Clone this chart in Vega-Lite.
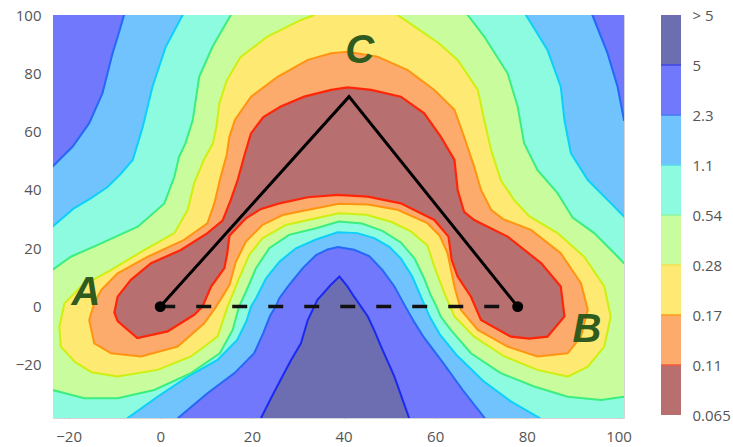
{
  "$schema": "https://vega.github.io/schema/vega-lite/v6.json",
  "background": "white",
  "padding": {"left": 14, "top": 7, "right": 5, "bottom": 5},
  "bounds": "flush",
  "spacing": 37,
  "config": {
    "view": {"stroke": null},
    "axis": {"labelFont": "Open Sans", "labelFontSize": 15, "labelColor": "#555555", "grid": false, "title": null, "tickColor": "#aaaaaa"}
  },
  "datasets": {
    "contours": [
      {"level":"bg","i":0,"x":-30,"y":-45},{"level":"bg","i":1,"x":110,"y":-45},{"level":"bg","i":2,"x":110,"y":110},{"level":"bg","i":3,"x":-30,"y":110},

      {"level":"p5","i":0,"x":-30,"y":110},{"level":"p5","i":1,"x":-30,"y":-45},{"level":"p5","i":2,"x":22,"y":-45},{"level":"p5","i":3,"x":22,"y":-38.2},{"level":"p5","i":4,"x":24.3,"y":-31},{"level":"p5","i":5,"x":26.3,"y":-25},{"level":"p5","i":6,"x":28.5,"y":-18.5},{"level":"p5","i":7,"x":30.7,"y":-12.6},{"level":"p5","i":8,"x":32.2,"y":-4.6},{"level":"p5","i":9,"x":34.3,"y":2.3},{"level":"p5","i":10,"x":37.2,"y":7.4},{"level":"p5","i":11,"x":39.1,"y":10.3},{"level":"p5","i":12,"x":40.8,"y":7},{"level":"p5","i":13,"x":42.3,"y":3.4},{"level":"p5","i":14,"x":45.3,"y":-3.4},{"level":"p5","i":15,"x":46.8,"y":-8.5},{"level":"p5","i":16,"x":48.2,"y":-13.7},{"level":"p5","i":17,"x":51.1,"y":-24},{"level":"p5","i":18,"x":54.3,"y":-38.2},{"level":"p5","i":19,"x":54.3,"y":-45},{"level":"p5","i":20,"x":110,"y":-45},{"level":"p5","i":21,"x":110,"y":110},

      {"level":"p23","i":0,"x":-7.9,"y":110},{"level":"p23","i":1,"x":-7.9,"y":100},{"level":"p23","i":2,"x":-9.2,"y":93},{"level":"p23","i":3,"x":-10.4,"y":86.9},{"level":"p23","i":4,"x":-12.6,"y":73.2},{"level":"p23","i":5,"x":-15.5,"y":62.9},{"level":"p23","i":6,"x":-19.1,"y":54.9},{"level":"p23","i":7,"x":-23.5,"y":48},{"level":"p23","i":8,"x":-30,"y":44},{"level":"p23","i":9,"x":-30,"y":-45},{"level":"p23","i":10,"x":3.9,"y":-45},{"level":"p23","i":11,"x":3.9,"y":-38.2},{"level":"p23","i":12,"x":10.3,"y":-29.7},{"level":"p23","i":13,"x":16.2,"y":-22.8},{"level":"p23","i":14,"x":20.5,"y":-16},{"level":"p23","i":15,"x":22.5,"y":-9},{"level":"p23","i":16,"x":24,"y":-3},{"level":"p23","i":17,"x":25.2,"y":0},{"level":"p23","i":18,"x":26,"y":2.9},{"level":"p23","i":19,"x":28.1,"y":7.4},{"level":"p23","i":20,"x":31.1,"y":13.2},{"level":"p23","i":21,"x":34,"y":17.7},{"level":"p23","i":22,"x":36.5,"y":19.6},{"level":"p23","i":23,"x":38.8,"y":20.4},{"level":"p23","i":24,"x":42.3,"y":19.5},{"level":"p23","i":25,"x":45.6,"y":17.3},{"level":"p23","i":26,"x":48.5,"y":12.5},{"level":"p23","i":27,"x":51.1,"y":6.9},{"level":"p23","i":28,"x":53.5,"y":0},{"level":"p23","i":29,"x":55.5,"y":-5.5},{"level":"p23","i":30,"x":57.5,"y":-10.5},{"level":"p23","i":31,"x":61.8,"y":-19.5},{"level":"p23","i":32,"x":66,"y":-28.6},{"level":"p23","i":33,"x":70.8,"y":-38.2},{"level":"p23","i":34,"x":70.8,"y":-45},{"level":"p23","i":35,"x":110,"y":-45},{"level":"p23","i":36,"x":110,"y":64},{"level":"p23","i":37,"x":101.2,"y":64},{"level":"p23","i":38,"x":99.8,"y":75.4},{"level":"p23","i":39,"x":97.6,"y":86.9},{"level":"p23","i":40,"x":94.3,"y":100},{"level":"p23","i":41,"x":94.3,"y":110},

      {"level":"p11","i":0,"x":4.9,"y":110},{"level":"p11","i":1,"x":4.9,"y":100},{"level":"p11","i":2,"x":1.2,"y":89.1},{"level":"p11","i":3,"x":-1.7,"y":75.4},{"level":"p11","i":4,"x":-3.8,"y":61.7},{"level":"p11","i":5,"x":-6,"y":50.3},{"level":"p11","i":6,"x":-8.6,"y":45.5},{"level":"p11","i":7,"x":-11.5,"y":41},{"level":"p11","i":8,"x":-15,"y":37.3},{"level":"p11","i":9,"x":-19,"y":33.5},{"level":"p11","i":10,"x":-23.5,"y":27.4},{"level":"p11","i":11,"x":-30,"y":24},{"level":"p11","i":12,"x":-30,"y":-45},{"level":"p11","i":13,"x":-7.1,"y":-45},{"level":"p11","i":14,"x":-7.1,"y":-38.2},{"level":"p11","i":15,"x":-0.6,"y":-30.9},{"level":"p11","i":16,"x":6,"y":-24},{"level":"p11","i":17,"x":12.5,"y":-18.3},{"level":"p11","i":18,"x":16.8,"y":-11.4},{"level":"p11","i":19,"x":18.8,"y":-5},{"level":"p11","i":20,"x":19.8,"y":0},{"level":"p11","i":21,"x":20.9,"y":2.9},{"level":"p11","i":22,"x":23.1,"y":9.7},{"level":"p11","i":23,"x":26,"y":15.4},{"level":"p11","i":24,"x":29.6,"y":20},{"level":"p11","i":25,"x":34,"y":23},{"level":"p11","i":26,"x":38.7,"y":25.5},{"level":"p11","i":27,"x":43,"y":25.2},{"level":"p11","i":28,"x":46.7,"y":23.5},{"level":"p11","i":29,"x":50,"y":20.5},{"level":"p11","i":30,"x":52.5,"y":16.5},{"level":"p11","i":31,"x":55,"y":10.3},{"level":"p11","i":32,"x":57,"y":3},{"level":"p11","i":33,"x":58.8,"y":-3.5},{"level":"p11","i":34,"x":61,"y":-9.5},{"level":"p11","i":35,"x":64.6,"y":-16.5},{"level":"p11","i":36,"x":70.5,"y":-25.5},{"level":"p11","i":37,"x":76.5,"y":-32.5},{"level":"p11","i":38,"x":82.8,"y":-38.2},{"level":"p11","i":39,"x":82.8,"y":-45},{"level":"p11","i":40,"x":110,"y":-45},{"level":"p11","i":41,"x":110,"y":30.9},{"level":"p11","i":42,"x":101.2,"y":30.9},{"level":"p11","i":43,"x":97.6,"y":36.6},{"level":"p11","i":44,"x":93.3,"y":43.4},{"level":"p11","i":45,"x":89.6,"y":52.6},{"level":"p11","i":46,"x":88.2,"y":64},{"level":"p11","i":47,"x":87.4,"y":75.4},{"level":"p11","i":48,"x":84.5,"y":88},{"level":"p11","i":49,"x":79.8,"y":100},{"level":"p11","i":50,"x":79.8,"y":110},

      {"level":"p054","i":0,"x":15.4,"y":110},{"level":"p054","i":1,"x":15.4,"y":100},{"level":"p054","i":2,"x":11.4,"y":89.1},{"level":"p054","i":3,"x":8.5,"y":78.8},{"level":"p054","i":4,"x":7.1,"y":64},{"level":"p054","i":5,"x":5.5,"y":56},{"level":"p054","i":6,"x":4.1,"y":51.4},{"level":"p054","i":7,"x":3.1,"y":44.6},{"level":"p054","i":8,"x":0.9,"y":35.4},{"level":"p054","i":9,"x":-4.9,"y":27.4},{"level":"p054","i":10,"x":-12.9,"y":21.7},{"level":"p054","i":11,"x":-19.5,"y":17.1},{"level":"p054","i":12,"x":-23.5,"y":12.6},{"level":"p054","i":13,"x":-30,"y":10},{"level":"p054","i":14,"x":-30,"y":-27},{"level":"p054","i":15,"x":-23.5,"y":-28.6},{"level":"p054","i":16,"x":-16.6,"y":-31.4},{"level":"p054","i":17,"x":-9.3,"y":-31.4},{"level":"p054","i":18,"x":-1.3,"y":-28.6},{"level":"p054","i":19,"x":6.7,"y":-22.8},{"level":"p054","i":20,"x":13,"y":-16},{"level":"p054","i":21,"x":15.8,"y":-8},{"level":"p054","i":22,"x":17.2,"y":0},{"level":"p054","i":23,"x":18.7,"y":5.1},{"level":"p054","i":24,"x":20.9,"y":13.2},{"level":"p054","i":25,"x":23.8,"y":20},{"level":"p054","i":26,"x":28.1,"y":24.6},{"level":"p054","i":27,"x":34,"y":26.9},{"level":"p054","i":28,"x":39,"y":29.2},{"level":"p054","i":29,"x":44,"y":28.5},{"level":"p054","i":30,"x":48.5,"y":26},{"level":"p054","i":31,"x":52.5,"y":22},{"level":"p054","i":32,"x":55.5,"y":16.5},{"level":"p054","i":33,"x":57.5,"y":10},{"level":"p054","i":34,"x":59,"y":4},{"level":"p054","i":35,"x":60.3,"y":0},{"level":"p054","i":36,"x":61.2,"y":-3.4},{"level":"p054","i":37,"x":63.4,"y":-8},{"level":"p054","i":38,"x":67.8,"y":-16},{"level":"p054","i":39,"x":74.3,"y":-22.8},{"level":"p054","i":40,"x":81.6,"y":-27.4},{"level":"p054","i":41,"x":88.9,"y":-30.9},{"level":"p054","i":42,"x":96.2,"y":-32},{"level":"p054","i":43,"x":101.2,"y":-30.9},{"level":"p054","i":44,"x":110,"y":-30},{"level":"p054","i":45,"x":110,"y":14},{"level":"p054","i":46,"x":101.2,"y":14.9},{"level":"p054","i":47,"x":99.1,"y":18.3},{"level":"p054","i":48,"x":94.7,"y":25.2},{"level":"p054","i":49,"x":90,"y":30.5},{"level":"p054","i":50,"x":86.7,"y":38.9},{"level":"p054","i":51,"x":82.3,"y":46.9},{"level":"p054","i":52,"x":79.4,"y":56},{"level":"p054","i":53,"x":78,"y":68.6},{"level":"p054","i":54,"x":75.8,"y":80},{"level":"p054","i":55,"x":70.7,"y":92.6},{"level":"p054","i":56,"x":67.1,"y":100},{"level":"p054","i":57,"x":67.1,"y":110},

      {"level":"p028","i":0,"x":-22,"y":-6.9},{"level":"p028","i":1,"x":-20.9,"y":1.1},{"level":"p028","i":2,"x":-17.3,"y":6.9},{"level":"p028","i":3,"x":-10.7,"y":12.6},{"level":"p028","i":4,"x":-3.5,"y":19.4},{"level":"p028","i":5,"x":3.1,"y":25.2},{"level":"p028","i":6,"x":6,"y":33.2},{"level":"p028","i":7,"x":7.4,"y":42.3},{"level":"p028","i":8,"x":9.5,"y":50.3},{"level":"p028","i":9,"x":11.5,"y":56},{"level":"p028","i":10,"x":12.3,"y":62},{"level":"p028","i":11,"x":12.9,"y":69.7},{"level":"p028","i":12,"x":14.5,"y":77.5},{"level":"p028","i":13,"x":17.5,"y":85.5},{"level":"p028","i":14,"x":23.4,"y":92.6},{"level":"p028","i":15,"x":30.7,"y":98.3},{"level":"p028","i":16,"x":33.6,"y":100},{"level":"p028","i":17,"x":33.6,"y":110},{"level":"p028","i":18,"x":51.8,"y":110},{"level":"p028","i":19,"x":51.8,"y":100},{"level":"p028","i":20,"x":56,"y":95.5},{"level":"p028","i":21,"x":60.8,"y":90.3},{"level":"p028","i":22,"x":64.9,"y":84.6},{"level":"p028","i":23,"x":69.3,"y":74.3},{"level":"p028","i":24,"x":70.7,"y":64},{"level":"p028","i":25,"x":72.2,"y":53.7},{"level":"p028","i":26,"x":74.3,"y":43.4},{"level":"p028","i":27,"x":77.2,"y":36.6},{"level":"p028","i":28,"x":80.5,"y":31},{"level":"p028","i":29,"x":86.7,"y":25.2},{"level":"p028","i":30,"x":92.5,"y":17.1},{"level":"p028","i":31,"x":96.9,"y":6.9},{"level":"p028","i":32,"x":98.3,"y":-3.4},{"level":"p028","i":33,"x":96.9,"y":-13.7},{"level":"p028","i":34,"x":93.3,"y":-20.6},{"level":"p028","i":35,"x":88.9,"y":-24},{"level":"p028","i":36,"x":82.3,"y":-21.7},{"level":"p028","i":37,"x":75.1,"y":-17.1},{"level":"p028","i":38,"x":68.5,"y":-10.3},{"level":"p028","i":39,"x":64.2,"y":-3.4},{"level":"p028","i":40,"x":62,"y":4.6},{"level":"p028","i":41,"x":59.8,"y":13.7},{"level":"p028","i":42,"x":58.3,"y":21},{"level":"p028","i":43,"x":54.7,"y":25.8},{"level":"p028","i":44,"x":50.5,"y":29},{"level":"p028","i":45,"x":45,"y":31.5},{"level":"p028","i":46,"x":39,"y":32},{"level":"p028","i":47,"x":34,"y":30.3},{"level":"p028","i":48,"x":27.4,"y":28},{"level":"p028","i":49,"x":22.3,"y":23.4},{"level":"p028","i":50,"x":19.4,"y":17.7},{"level":"p028","i":51,"x":17.2,"y":9.7},{"level":"p028","i":52,"x":14.7,"y":0},{"level":"p028","i":53,"x":12.5,"y":-10.3},{"level":"p028","i":54,"x":6.7,"y":-17.1},{"level":"p028","i":55,"x":-0.6,"y":-21.7},{"level":"p028","i":56,"x":-9.3,"y":-24},{"level":"p028","i":57,"x":-15,"y":-22.5},{"level":"p028","i":58,"x":-18.6,"y":-19},{"level":"p028","i":59,"x":-21.7,"y":-13.7},

      {"level":"p017","i":0,"x":-15.5,"y":-4.6},{"level":"p017","i":1,"x":-14.4,"y":1.1},{"level":"p017","i":2,"x":-12.9,"y":5.7},{"level":"p017","i":3,"x":-9.3,"y":11.4},{"level":"p017","i":4,"x":-2.7,"y":17.1},{"level":"p017","i":5,"x":5.2,"y":22.9},{"level":"p017","i":6,"x":10.3,"y":28.6},{"level":"p017","i":7,"x":11.8,"y":35.4},{"level":"p017","i":8,"x":13.2,"y":44.6},{"level":"p017","i":9,"x":14.5,"y":52},{"level":"p017","i":10,"x":15.1,"y":58.3},{"level":"p017","i":11,"x":16.3,"y":64},{"level":"p017","i":12,"x":19.8,"y":72},{"level":"p017","i":13,"x":25.6,"y":78.8},{"level":"p017","i":14,"x":32.2,"y":84.6},{"level":"p017","i":15,"x":37.3,"y":86.9},{"level":"p017","i":16,"x":40.9,"y":87.4},{"level":"p017","i":17,"x":47.4,"y":85.7},{"level":"p017","i":18,"x":54,"y":81.1},{"level":"p017","i":19,"x":59.8,"y":74.3},{"level":"p017","i":20,"x":64.2,"y":67.5},{"level":"p017","i":21,"x":66.3,"y":58.3},{"level":"p017","i":22,"x":68.5,"y":48},{"level":"p017","i":23,"x":70,"y":40},{"level":"p017","i":24,"x":72.2,"y":33.2},{"level":"p017","i":25,"x":74.8,"y":30},{"level":"p017","i":26,"x":80.9,"y":26.3},{"level":"p017","i":27,"x":87.4,"y":18.3},{"level":"p017","i":28,"x":91.8,"y":8},{"level":"p017","i":29,"x":93.3,"y":-1.1},{"level":"p017","i":30,"x":91.8,"y":-10.3},{"level":"p017","i":31,"x":88.9,"y":-16},{"level":"p017","i":32,"x":82.3,"y":-17.1},{"level":"p017","i":33,"x":75.8,"y":-13.7},{"level":"p017","i":34,"x":69.3,"y":-8},{"level":"p017","i":35,"x":65.6,"y":-1.1},{"level":"p017","i":36,"x":64.2,"y":6.9},{"level":"p017","i":37,"x":62.7,"y":18.3},{"level":"p017","i":38,"x":61,"y":24.3},{"level":"p017","i":39,"x":58.3,"y":28.6},{"level":"p017","i":40,"x":51.8,"y":33.2},{"level":"p017","i":41,"x":45.3,"y":35},{"level":"p017","i":42,"x":39,"y":35.3},{"level":"p017","i":43,"x":34,"y":33.7},{"level":"p017","i":44,"x":26.7,"y":31.4},{"level":"p017","i":45,"x":22.3,"y":28},{"level":"p017","i":46,"x":18.7,"y":22.3},{"level":"p017","i":47,"x":16.5,"y":15.4},{"level":"p017","i":48,"x":15.1,"y":7.4},{"level":"p017","i":49,"x":12.2,"y":0},{"level":"p017","i":50,"x":9.6,"y":-5.7},{"level":"p017","i":51,"x":3.8,"y":-13.7},{"level":"p017","i":52,"x":-4.2,"y":-17.1},{"level":"p017","i":53,"x":-10.7,"y":-16},{"level":"p017","i":54,"x":-14.4,"y":-12.6},

      {"level":"p011","i":0,"x":-10,"y":-2},{"level":"p011","i":1,"x":-9.3,"y":3.4},{"level":"p011","i":2,"x":-6.4,"y":9.2},{"level":"p011","i":3,"x":-2,"y":14.9},{"level":"p011","i":4,"x":4.5,"y":19.4},{"level":"p011","i":5,"x":10.3,"y":25.2},{"level":"p011","i":6,"x":13.6,"y":29.5},{"level":"p011","i":7,"x":15.4,"y":36.6},{"level":"p011","i":8,"x":16.9,"y":43.4},{"level":"p011","i":9,"x":18.4,"y":52},{"level":"p011","i":10,"x":19.8,"y":59.4},{"level":"p011","i":11,"x":22.5,"y":65},{"level":"p011","i":12,"x":26.3,"y":68.6},{"level":"p011","i":13,"x":31.4,"y":72},{"level":"p011","i":14,"x":37.3,"y":74.3},{"level":"p011","i":15,"x":40.9,"y":75.2},{"level":"p011","i":16,"x":46,"y":74.3},{"level":"p011","i":17,"x":52.5,"y":72},{"level":"p011","i":18,"x":57.6,"y":66.3},{"level":"p011","i":19,"x":61.2,"y":58.3},{"level":"p011","i":20,"x":64.2,"y":50.3},{"level":"p011","i":21,"x":64.9,"y":40},{"level":"p011","i":22,"x":66.3,"y":32.5},{"level":"p011","i":23,"x":68.5,"y":29.7},{"level":"p011","i":24,"x":75.8,"y":24},{"level":"p011","i":25,"x":83.1,"y":14.9},{"level":"p011","i":26,"x":87.4,"y":6.9},{"level":"p011","i":27,"x":88.2,"y":-3.4},{"level":"p011","i":28,"x":84.5,"y":-10.3},{"level":"p011","i":29,"x":80.5,"y":-11},{"level":"p011","i":30,"x":76.5,"y":-10.3},{"level":"p011","i":31,"x":70,"y":-4.6},{"level":"p011","i":32,"x":67.8,"y":3.4},{"level":"p011","i":33,"x":64.9,"y":10.3},{"level":"p011","i":34,"x":63.6,"y":16},{"level":"p011","i":35,"x":62.9,"y":24},{"level":"p011","i":36,"x":59.8,"y":29.7},{"level":"p011","i":37,"x":52.5,"y":35.4},{"level":"p011","i":38,"x":45.3,"y":37.7},{"level":"p011","i":39,"x":38.7,"y":38.3},{"level":"p011","i":40,"x":32.2,"y":37.5},{"level":"p011","i":41,"x":26,"y":35.4},{"level":"p011","i":42,"x":22,"y":33.5},{"level":"p011","i":43,"x":18.7,"y":30.3},{"level":"p011","i":44,"x":15.1,"y":24.3},{"level":"p011","i":45,"x":14.6,"y":18},{"level":"p011","i":46,"x":14,"y":13.2},{"level":"p011","i":47,"x":11.1,"y":6.9},{"level":"p011","i":48,"x":9.2,"y":0},{"level":"p011","i":49,"x":7.4,"y":-2.8},{"level":"p011","i":50,"x":1.6,"y":-8.5},{"level":"p011","i":51,"x":-5,"y":-10.8},{"level":"p011","i":52,"x":-9.3,"y":-5}
    ],
    "path": [
      {"i":0,"x":0,"y":0},{"i":1,"x":41.2,"y":72},{"i":2,"x":78,"y":0}
    ],
    "baseline": [
      {"i":0,"x":0,"y":0},{"i":1,"x":78,"y":0}
    ],
    "labels": [
      {"label":"A","x":-16.2,"y":0.6},{"label":"B","x":93.1,"y":-12.1},{"label":"C","x":43.5,"y":83.6}
    ],
    "bands": [
      {"band":"0.065–0.11","lo":0,"hi":1},
      {"band":"0.11–0.17","lo":1,"hi":2},
      {"band":"0.17–0.28","lo":2,"hi":3},
      {"band":"0.28–0.54","lo":3,"hi":4},
      {"band":"0.54–1.1","lo":4,"hi":5},
      {"band":"1.1–2.3","lo":5,"hi":6},
      {"band":"2.3–5","lo":6,"hi":7},
      {"band":">5","lo":7,"hi":8}
    ]
  },
  "hconcat": [
    {
      "width": 571,
      "height": 403,
      "view": {"stroke": "#d4d4d4"},
      "encoding": {
        "x": {"field": "x", "type": "quantitative", "scale": {"domain": [-23.4, 101.2], "nice": false, "zero": false},
              "axis": {"values": [-20, 0, 20, 40, 60, 80, 100], "domain": false, "tickSize": -3, "labelPadding": 14}},
        "y": {"field": "y", "type": "quantitative", "scale": {"domain": [-38.2, 100], "nice": false, "zero": false},
              "axis": {"values": [-20, 0, 20, 40, 60, 80, 100], "domain": false, "tickSize": -3, "labelPadding": 15}}
      },
      "layer": [
        {"data": {"name": "contours"}, "transform": [{"filter": "datum.level === 'bg'"}],
         "mark": {"type": "line", "interpolate": "linear-closed", "fill": "#6d6db1", "stroke": "#6d6db1", "strokeWidth": 0, "clip": true},
         "encoding": {"order": {"field": "i", "type": "quantitative"}}},
        {"data": {"name": "contours"}, "transform": [{"filter": "datum.level === 'p5'"}],
         "mark": {"type": "line", "interpolate": "linear-closed", "fill": "#7178fb", "stroke": "#1a2af0", "strokeWidth": 2, "clip": true},
         "encoding": {"order": {"field": "i", "type": "quantitative"}}},
        {"data": {"name": "contours"}, "transform": [{"filter": "datum.level === 'p23'"}],
         "mark": {"type": "line", "interpolate": "linear-closed", "fill": "#70c3fc", "stroke": "#2468f8", "strokeWidth": 2, "clip": true},
         "encoding": {"order": {"field": "i", "type": "quantitative"}}},
        {"data": {"name": "contours"}, "transform": [{"filter": "datum.level === 'p11'"}],
         "mark": {"type": "line", "interpolate": "linear-closed", "fill": "#8dfbe0", "stroke": "#0cd0fa", "strokeWidth": 2, "clip": true},
         "encoding": {"order": {"field": "i", "type": "quantitative"}}},
        {"data": {"name": "contours"}, "transform": [{"filter": "datum.level === 'p054'"}],
         "mark": {"type": "line", "interpolate": "linear-closed", "fill": "#c9fc9d", "stroke": "#3aee80", "strokeWidth": 2, "clip": true},
         "encoding": {"order": {"field": "i", "type": "quantitative"}}},
        {"data": {"name": "contours"}, "transform": [{"filter": "datum.level === 'p028'"}],
         "mark": {"type": "line", "interpolate": "linear-closed", "fill": "#fee972", "stroke": "#cdf010", "strokeWidth": 2, "clip": true},
         "encoding": {"order": {"field": "i", "type": "quantitative"}}},
        {"data": {"name": "contours"}, "transform": [{"filter": "datum.level === 'p017'"}],
         "mark": {"type": "line", "interpolate": "linear-closed", "fill": "#fcab6d", "stroke": "#ff9410", "strokeWidth": 2, "clip": true},
         "encoding": {"order": {"field": "i", "type": "quantitative"}}},
        {"data": {"name": "contours"}, "transform": [{"filter": "datum.level === 'p011'"}],
         "mark": {"type": "line", "interpolate": "linear-closed", "fill": "#b86f6f", "stroke": "#ff2608", "strokeWidth": 2.2, "clip": true},
         "encoding": {"order": {"field": "i", "type": "quantitative"}}},
        {"data": {"name": "path"},
         "mark": {"type": "line", "color": "black", "strokeWidth": 3, "strokeJoin": "miter"},
         "encoding": {"order": {"field": "i", "type": "quantitative"}}},
        {"data": {"name": "baseline"},
         "mark": {"type": "line", "color": "#111111", "strokeWidth": 3.5, "strokeDash": [15, 21]},
         "encoding": {"order": {"field": "i", "type": "quantitative"}}},
        {"data": {"name": "path"}, "transform": [{"filter": "datum.i !== 1"}],
         "mark": {"type": "circle", "color": "black", "opacity": 1, "size": 120},
         "encoding": {}},
        {"data": {"name": "labels"},
         "mark": {"type": "text", "font": "Liberation Sans", "fontSize": 40, "fontWeight": "bold", "fontStyle": "italic", "color": "#2f5b1e", "align": "center", "baseline": "alphabetic"},
         "encoding": {"text": {"field": "label"}}}
      ]
    },
    {
      "width": 20,
      "height": 400,
      "data": {"name": "bands"},
      "layer": [
        {"mark": {"type": "rect"},
         "encoding": {
           "y": {"field": "lo", "type": "quantitative", "scale": {"domain": [0, 8], "nice": false, "zero": false},
                 "axis": {"orient": "right", "values": [0, 1, 2, 3, 4, 5, 6, 7, 8], "ticks": false, "domain": false, "labelPadding": 11,
                          "labelExpr": "['0.065','0.11','0.17','0.28','0.54','1.1','2.3','5','> 5'][datum.value]"}},
           "y2": {"field": "hi"},
           "fill": {"field": "band", "type": "nominal",
                    "scale": {"domain": ["0.065–0.11","0.11–0.17","0.17–0.28","0.28–0.54","0.54–1.1","1.1–2.3","2.3–5",">5"],
                              "range": ["#b86f6f","#fcab6d","#fee972","#c9fc9d","#8dfbe0","#70c3fc","#7178fb","#6d6db1"]},
                    "legend": null}
         }},
        {"transform": [{"filter": "datum.hi < 8"}],
         "mark": {"type": "rule", "strokeWidth": 1.5},
         "encoding": {
           "y": {"field": "hi", "type": "quantitative"},
           "stroke": {"field": "band", "type": "nominal",
                      "scale": {"domain": ["0.065–0.11","0.11–0.17","0.17–0.28","0.28–0.54","0.54–1.1","1.1–2.3","2.3–5"],
                                "range": ["#f05a3c","#ff9a1a","#f5e050","#8df5a8","#5ad6f0","#4a78f5","#3c46e6"]},
                      "legend": null}
         }}
      ]
    }
  ]
}
